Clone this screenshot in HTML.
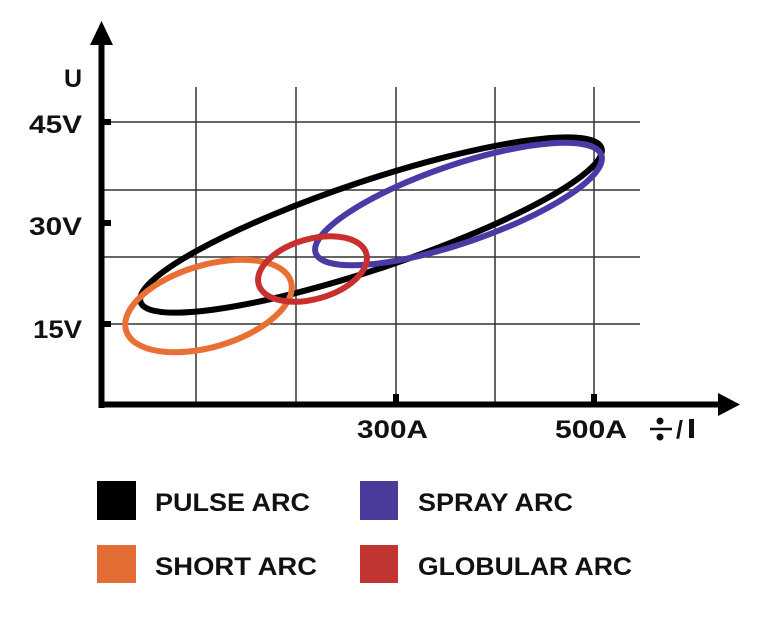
<!DOCTYPE html>
<html><head><style>
body{margin:0;background:#fff;width:778px;height:623px;overflow:hidden}
text{font-family:"Liberation Sans",sans-serif}
</style></head><body>
<svg width="778" height="623" viewBox="0 0 778 623">
<g stroke="#333" stroke-width="1.5">
<line x1="196" y1="87" x2="196" y2="405"/>
<line x1="296" y1="87" x2="296" y2="405"/>
<line x1="396" y1="87" x2="396" y2="405"/>
<line x1="495" y1="87" x2="495" y2="405"/>
<line x1="594" y1="87" x2="594" y2="405"/>
<line x1="102" y1="122" x2="640" y2="122"/>
<line x1="102" y1="190" x2="640" y2="190"/>
<line x1="102" y1="257" x2="640" y2="257"/>
<line x1="102" y1="324" x2="640" y2="324"/>
</g>
<g stroke="#000" stroke-width="6">
<line x1="101.5" y1="40" x2="101.5" y2="408"/>
<line x1="99" y1="404.5" x2="720" y2="404.5"/>
<line x1="102" y1="122" x2="111" y2="122"/>
<line x1="102" y1="223" x2="111" y2="223"/>
<line x1="102" y1="324" x2="111" y2="324"/>
<line x1="396" y1="404" x2="396" y2="394"/>
<line x1="594" y1="404" x2="594" y2="394"/>
</g>
<polygon points="101.5,21 90,45 113,45" fill="#000"/>
<polygon points="740,404.5 718,393 718,416" fill="#000"/>
<g fill="none" stroke-width="6">
<ellipse cx="371" cy="225" rx="243" ry="44" transform="rotate(-18.5 371 225)" stroke="#000"/>
<ellipse cx="458.5" cy="204" rx="151" ry="39" transform="rotate(-18.9 458.5 204)" stroke="#4a3aa5"/>
<ellipse cx="208.5" cy="306" rx="86" ry="41" transform="rotate(-16.5 208.5 306)" stroke="#e87034"/>
<ellipse cx="312.5" cy="269" rx="56" ry="30" transform="rotate(-16 312.5 269)" stroke="#c8302f"/>
</g>
<g font-size="25" font-weight="bold" fill="#111">
<text x="73" y="87" text-anchor="middle">U</text>
<text x="29" y="133" textLength="53" lengthAdjust="spacingAndGlyphs">45V</text>
<text x="29" y="235" textLength="53" lengthAdjust="spacingAndGlyphs">30V</text>
<text x="33" y="338" textLength="49" lengthAdjust="spacingAndGlyphs">15V</text>
<text x="357" y="438" textLength="71" lengthAdjust="spacingAndGlyphs">300A</text>
<text x="555" y="438" textLength="72" lengthAdjust="spacingAndGlyphs">500A</text>
<text x="676" y="438">/</text>
<rect x="689" y="419" width="5" height="19"/>
</g>
<g fill="#111"><circle cx="660" cy="421" r="3.5"/><circle cx="660" cy="437" r="3.5"/><line x1="650" y1="429" x2="672" y2="429" stroke="#111" stroke-width="2.5"/></g>
<rect x="97" y="481" width="39" height="39" fill="#000"/>
<rect x="360" y="481" width="38" height="39" fill="#4a3a99"/>
<rect x="97" y="545" width="39" height="38" fill="#e36d35"/>
<rect x="360" y="545" width="38" height="38" fill="#c23533"/>
<g font-size="25" fill="#111" font-weight="bold">
<text x="155" y="511" textLength="155" lengthAdjust="spacingAndGlyphs">PULSE ARC</text>
<text x="418" y="511" textLength="155" lengthAdjust="spacingAndGlyphs">SPRAY ARC</text>
<text x="155" y="575" textLength="162" lengthAdjust="spacingAndGlyphs">SHORT ARC</text>
<text x="418" y="575" textLength="214" lengthAdjust="spacingAndGlyphs">GLOBULAR ARC</text>
</g>
</svg>
</body></html>
